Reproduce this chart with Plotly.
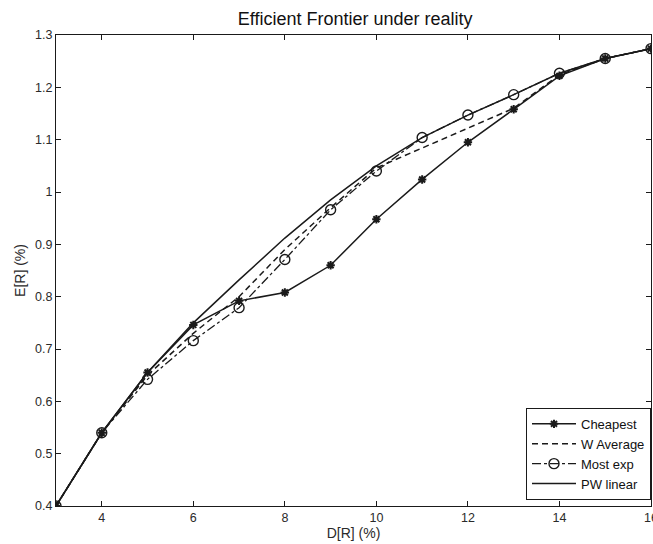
import plotly.graph_objects as go

x_vals = [3, 4, 5, 6, 7, 8, 9, 10, 11, 12, 13, 14, 15, 16]
cheapest = [0.40, 0.54, 0.655, 0.746, 0.792, 0.808, 0.860, 0.948, 1.024, 1.095, 1.158, 1.222, 1.255, 1.274]
w_average = [0.40, 0.54, 0.650, 0.730, 0.800, 0.890, 0.970, 1.046, 1.084, 1.122, 1.160, 1.224, 1.255, 1.274]
most_exp = [0.40, 0.54, 0.642, 0.716, 0.779, 0.871, 0.966, 1.040, 1.104, 1.147, 1.186, 1.227, 1.255, 1.274]
pw_linear = [0.40, 0.54, 0.655, 0.750, 0.832, 0.912, 0.985, 1.050, 1.104, 1.147, 1.186, 1.227, 1.255, 1.274]

y_ticks = [0.4, 0.5, 0.6, 0.7, 0.8, 0.9, 1.0, 1.1, 1.2, 1.3]
x_ticks = [4, 6, 8, 10, 12, 14, 16]

FONT = "Liberation Sans, Arial, sans-serif"
black = "#1a1a1a"
txt = "#2a2a2a"

fig = go.Figure()
fig.add_trace(go.Scatter(
    x=x_vals, y=cheapest, name="Cheapest", mode="lines+markers",
    line=dict(color=black, width=1.5),
    marker=dict(symbol="asterisk-open", size=7, color=black, line=dict(width=2, color=black)),
))
fig.add_trace(go.Scatter(
    x=x_vals, y=w_average, name="W Average", mode="lines",
    line=dict(color=black, width=1.5, dash="6px,4px"),
))
fig.add_trace(go.Scatter(
    x=x_vals, y=most_exp, name="Most exp", mode="lines+markers",
    line=dict(color=black, width=1.3, dash="dashdot"),
    marker=dict(symbol="circle-open", size=10, color=black, line=dict(width=1.4, color=black)),
))
fig.add_trace(go.Scatter(
    x=x_vals, y=pw_linear, name="PW linear", mode="lines",
    line=dict(color=black, width=1.5),
))

axis_common = dict(
    showgrid=False, zeroline=False, showline=True, linecolor=black, linewidth=1,
    mirror="ticks", ticks="inside", ticklen=5, tickcolor=black,
    tickfont=dict(family=FONT, size=12.5, color=txt),
    ticklabeloverflow="allow",
)

fig.update_layout(
    width=653, height=544,
    margin=dict(l=56, r=2, t=35, b=38, autoexpand=False),
    paper_bgcolor="white", plot_bgcolor="white",
    title=dict(text="Efficient Frontier under reality", x=0.544, xanchor="center",
               y=0.966, yanchor="middle",
               font=dict(family=FONT, size=18, color="#111")),
    xaxis=dict(range=[3, 16], tickvals=x_ticks, ticktext=[str(v) for v in x_ticks],
               title=dict(text="D[R] (%)", font=dict(family=FONT, size=14, color=txt), standoff=4),
               **axis_common),
    yaxis=dict(range=[0.4, 1.3], tickvals=y_ticks, ticktext=[f"{v:g}" for v in y_ticks],
               title=dict(text="E[R] (%)", font=dict(family=FONT, size=14, color=txt), standoff=6),
               **axis_common),
    legend=dict(x=1, y=0.013, xanchor="right", yanchor="bottom",
                bgcolor="white", bordercolor=black, borderwidth=1,
                font=dict(family=FONT, size=13, color="#111"),
                itemwidth=44, tracegroupgap=0),
    showlegend=True,
)

fig.write_html(
    "out.html",
    config={"displayModeBar": False},
    post_script="document.body.style.margin='0';document.body.style.overflow='hidden';",
)
